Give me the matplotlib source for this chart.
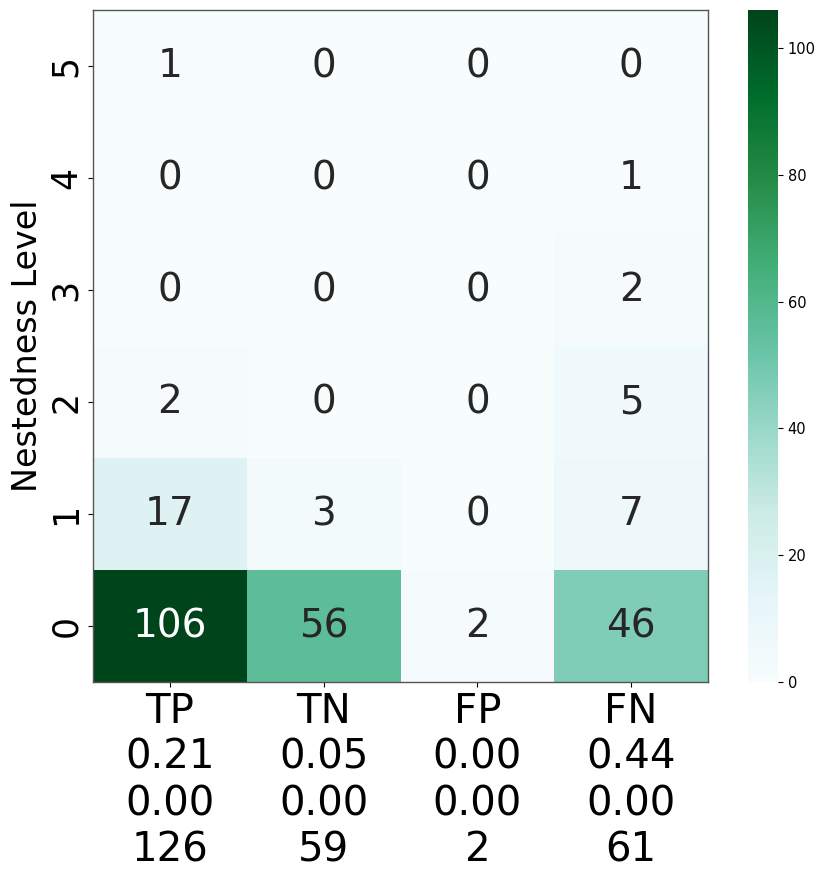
import numpy as np
import matplotlib
matplotlib.use("Agg")
import matplotlib.pyplot as plt
import seaborn as sns

levels = [5, 4, 3, 2, 1, 0]
categories = ["TP", "TN", "FP", "FN"]
counts = np.array([
    [1, 0, 0, 0],
    [0, 0, 0, 1],
    [0, 0, 0, 2],
    [2, 0, 0, 5],
    [17, 3, 0, 7],
    [106, 56, 2, 46],
])
row1 = ["0.21", "0.05", "0.00", "0.44"]
row2 = ["0.00", "0.00", "0.00", "0.00"]
totals = [126, 59, 2, 61]

xlabels = [f"{c}\n{a}\n{b}\n{t}" for c, a, b, t in zip(categories, row1, row2, totals)]

fig = plt.figure(figsize=(8.31, 8.76), dpi=100)
ax = fig.add_axes([93/831, 1-682/876, 615/831, 672/876])
cax = fig.add_axes([748/831, 1-682/876, 30/831, 672/876])
sns.heatmap(counts, ax=ax, cbar_ax=cax, cmap="BuGn", annot=True, fmt="d",
            annot_kws={"fontsize": 28}, xticklabels=xlabels, yticklabels=levels)
for s in ax.spines.values():
    s.set_visible(True)
    s.set_color("#555555")
    s.set_linewidth(1)
ax.set_ylabel("Nestedness Level", fontsize=24)
ax.tick_params(axis="x", labelsize=29, rotation=0)
ax.tick_params(axis="y", labelsize=25, rotation=90)
for t in ax.get_yticklabels():
    t.set_va("center")
cax.tick_params(labelsize=10.5)
fig.savefig("out.png", dpi=100)
